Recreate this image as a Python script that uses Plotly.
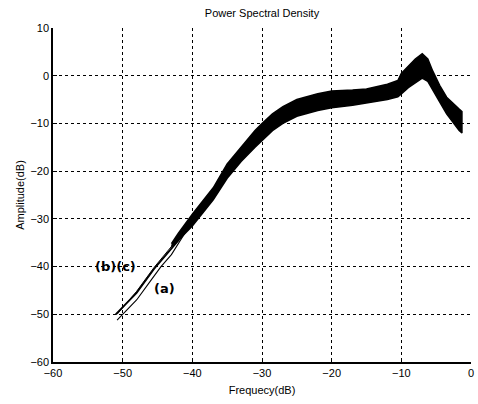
import plotly.graph_objects as go

# Envelope of the dense PSD band
band_x = [-43, -42, -40, -37, -35, -33, -31, -30, -28.5, -27, -25, -22, -20, -17, -15,
          -12, -10.5, -10, -9, -8, -7, -6.2, -5.5, -4.5, -3.5, -2.5, -1.7, -1.3, -1.3]
band_top = [-35.2, -33.0, -29, -23.5, -18.5, -15, -11.5, -10, -8, -6.5, -5, -3.8, -3.2, -3.0, -2.8,
            -1.8, -1.0, 0.5, 2.0, 3.5, 4.6, 3.5, 1.0, -2.0, -4.5, -6.0, -7.0, -7.5, -8.0]
band_bot = [-35.8, -34.5, -31.5, -26, -21.5, -18, -15, -13.5, -11.5, -10, -8.5, -7.3, -6.7, -6.2, -5.8,
            -5.0, -4.4, -3.8, -2.5, -1.5, -0.5, -1.2, -3.0, -5.5, -8.0, -10.0, -11.5, -12.0, -12.0]

# Thin low-frequency curves (a), (b), (c)
a_x = [-50.8, -48, -46, -44.5, -43, -41.5, -40]
a_y = [-51.2, -47, -43, -40, -37.5, -34, -30.5]
b_x = [-51, -48, -45.5, -44, -42, -40]
b_y = [-50, -45.5, -40.5, -38, -34.5, -30.5]
c_x = [-50.8, -48, -45.5, -43.8, -42, -40]
c_y = [-50, -45.2, -40.2, -37.2, -34.2, -30.5]

x_ticks = [-60, -50, -40, -30, -20, -10, 0]
y_ticks = [-60, -50, -40, -30, -20, -10, 0, 10]

fig = go.Figure()
fig.add_trace(go.Scatter(x=band_x + band_x[::-1], y=band_top + band_bot[::-1],
                         fill="toself", fillcolor="black", mode="lines",
                         line=dict(color="black", width=1.5), hoverinfo="skip"))
fig.add_trace(go.Scatter(x=a_x, y=a_y, mode="lines", line=dict(color="black", width=1.1)))
fig.add_trace(go.Scatter(x=b_x, y=b_y, mode="lines", line=dict(color="black", width=1.8)))
fig.add_trace(go.Scatter(x=c_x, y=c_y, mode="lines", line=dict(color="black", width=1.0)))

fig.add_annotation(x=-47.8, y=-39.9, text="<b>(b)(c)</b>", showarrow=False,
                   font=dict(family="DejaVu Sans", size=13, color="black"), xanchor="right")
fig.add_annotation(x=-42.2, y=-44.5, text="<b>(a)</b>", showarrow=False,
                   font=dict(family="DejaVu Sans", size=13, color="black"), xanchor="right")

axis_common = dict(showgrid=True, gridcolor="black", gridwidth=1, griddash="3px,3px",
                   zeroline=False, showline=True, linecolor="black", linewidth=1.5,
                   ticks="inside", ticklen=4, tickcolor="black", automargin=False,
                   tickfont=dict(family="Liberation Sans", size=11, color="black"))

fig.update_xaxes(range=[-60, 0], tickvals=x_ticks, **axis_common,
                 title=dict(text="Frequecy(dB)", standoff=8,
                            font=dict(family="Liberation Sans", size=11, color="black")))
fig.update_yaxes(range=[-60, 10], tickvals=y_ticks, **axis_common,
                 title=dict(text="Amplitude(dB)", standoff=4,
                            font=dict(family="Liberation Sans", size=11, color="black")))

fig.update_layout(width=478, height=404, showlegend=False,
                  margin=dict(l=53, r=7, t=28, b=42),
                  plot_bgcolor="white", paper_bgcolor="white",
                  title=dict(text="Power Spectral Density", xref="paper", x=0.5, xanchor="center",
                             yref="container", y=0.977, yanchor="top",
                             font=dict(family="Liberation Sans", size=11, color="black")))

# remove the default page margin so the figure fills the window exactly
fig.write_html("out.html", config={"displayModeBar": False},
               post_script="document.body.style.margin='0';document.body.style.overflow='hidden';")
